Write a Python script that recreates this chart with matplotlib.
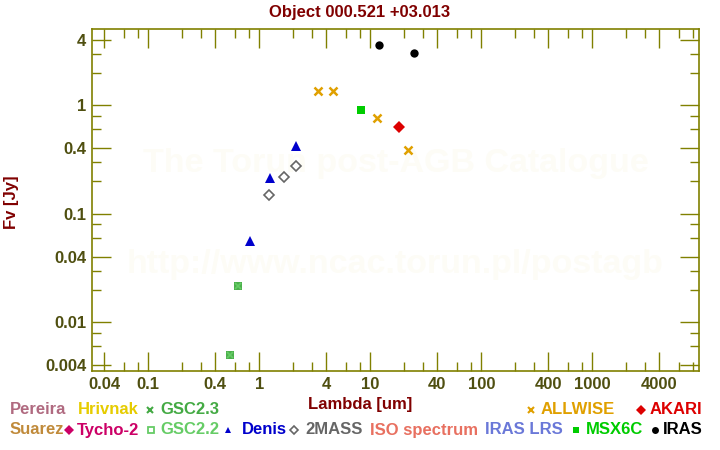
import matplotlib
matplotlib.use("Agg")
import matplotlib.pyplot as plt
from matplotlib.ticker import FixedLocator, NullFormatter

# photometry (lambda in um, flux in Jy)
gsc22_lam = [0.545, 0.647]
gsc22_f = [0.00497, 0.0215]
gsc23_lam = [0.545, 0.647]
gsc23_f = [0.00497, 0.0215]
denis_lam = [0.82, 1.26, 2.14]
denis_f = [0.0565, 0.212, 0.419]
mass_lam = [1.235, 1.662, 2.159]
mass_f = [0.148, 0.217, 0.276]
allwise_lam = [3.35, 4.6, 11.56, 22.08]
allwise_f = [1.35, 1.35, 0.764, 0.385]
msx_lam = [8.28]
msx_f = [0.905]
akari_lam = [18.0]
akari_f = [0.627]
iras_lam = [12.0, 25.0]
iras_f = [3.57, 3.01]

x_major = [0.04, 0.1, 0.4, 1, 4, 10, 40, 100, 400, 1000, 4000]
x_minor = [0.06, 0.08, 0.2, 0.3, 0.6, 0.8, 2, 3, 6, 8, 20, 30, 60, 80,
           200, 300, 600, 800, 2000, 3000, 6000, 8000]
y_major = [0.004, 0.01, 0.04, 0.1, 0.4, 1, 4]
y_minor = [0.006, 0.008, 0.02, 0.03, 0.06, 0.08, 0.2, 0.3, 0.6, 0.8, 2, 3]

olive = '#808000'
label_col = '#4f4f10'
dark_red = '#800000'
plt.rcParams['font.family'] = ['Liberation Sans', 'DejaVu Sans']
plt.rcParams['font.weight'] = 'bold'

fig = plt.figure(figsize=(7.2, 4.5), dpi=100)
ax = fig.add_axes([0.1278, 0.1756, 0.843, 0.76])

# watermark
ax.text(0.5, 0.608, 'The Torun post-AGB Catalogue', transform=ax.transAxes,
        ha='center', va='center', fontsize=24.5, color='#fdfcf6', zorder=0)
ax.text(0.5, 0.31, 'http://www.ncac.torun.pl/postagb', transform=ax.transAxes,
        ha='center', va='center', fontsize=24.5, color='#fdfcf6', zorder=0)

ax.plot(gsc22_lam, gsc22_f, 's', color='#4cb04c', ms=6, mew=0)
ax.plot(gsc23_lam, gsc23_f, 'x', color='#66cc66', ms=5, mew=1.2)
ax.plot(denis_lam, denis_f, '^', color='#0000cc', ms=6.5, mew=0)
ax.plot(mass_lam, mass_f, 'D', mfc='white', mec='#666666', ms=5, mew=1.2)
ax.plot(allwise_lam, allwise_f, 'x', color='#e0a000', ms=5.5, mew=1.8)
ax.plot(msx_lam, msx_f, 's', color='#00cc00', ms=5.5, mew=0)
ax.plot(akari_lam, akari_f, 'D', color='#dd0000', ms=6, mew=0)
ax.plot(iras_lam, iras_f, 'o', color='black', ms=6, mew=0)

ax.set_xscale('log')
ax.set_yscale('log')
ax.set_xlim(0.0311, 9150)
ax.set_ylim(0.00356, 5.05)

ax.xaxis.set_major_locator(FixedLocator(x_major))
ax.xaxis.set_minor_locator(FixedLocator(x_minor))
ax.yaxis.set_major_locator(FixedLocator(y_major))
ax.yaxis.set_minor_locator(FixedLocator(y_minor))
ax.set_xticklabels([str(v) for v in x_major])
ax.set_yticklabels([str(v) for v in y_major])
ax.xaxis.set_minor_formatter(NullFormatter())
ax.yaxis.set_minor_formatter(NullFormatter())

ax.tick_params(which='both', direction='in', top=True, right=True, color=olive,
               labelcolor=label_col, labelsize=12, width=1)
ax.tick_params(which='major', length=13.5, pad=4)
ax.tick_params(which='minor', length=6.8)
for s in ax.spines.values():
    s.set_color(olive)
    s.set_linewidth(1.2)

fig.text(0.5, 0.973, 'Object 000.521 +03.013', ha='center', va='center',
         fontsize=12, color=dark_red, weight='bold')
fig.text(0.5, 0.1, 'Lambda [um]', ha='center', va='center', fontsize=12,
         color=dark_red, weight='bold')
fig.text(0.016, 0.55, 'Fv [Jy]', ha='center', va='center', rotation=90,
         fontsize=12, color=dark_red, weight='bold')

# legend: names, colours, marker, marker x, text x, row (all figure pixels)
leg_names = ['Pereira', 'Hrivnak', 'GSC2.3', 'ALLWISE', 'AKARI',
             'Suarez', 'Tycho-2', 'GSC2.2', 'Denis', '2MASS', 'ISO spectrum',
             'IRAS LRS', 'MSX6C', 'IRAS']
leg_cols = ['#b06a80', '#e6cc00', '#44aa44', '#e0a000', '#dd0000',
            '#c08a3a', '#cc0066', '#66cc66', '#0000cc', '#666666', '#e87060',
            '#6a78d8', '#00cc00', '#000000']
leg_marks = [None, None, 'x', 'x', 'D', None, 'D', 's', '^', 'D', None, None, 's', 'o']
leg_mx = [0, 0, 150, 531, 641, 0, 69, 151, 228, 294, 0, 0, 576, 655]
leg_tx = [10, 78, 160, 541, 650, 10, 77, 160, 242, 305, 370, 485, 586, 663]
leg_row = [410, 410, 410, 410, 410, 430, 430, 430, 430, 430, 430, 430, 430, 430]

W, H = 720.0, 450.0
for i in range(len(leg_names)):
    yy = 1 - leg_row[i] / H
    fig.text(leg_tx[i] / W, yy, leg_names[i], ha='left', va='center',
             fontsize=12, color=leg_cols[i], weight='bold')
    m = leg_marks[i]
    if m is None:
        continue
    if m == 'x':
        kw = dict(color=leg_cols[i], ms=5, mew=1.5)
    elif m == 's' and leg_names[i] == 'GSC2.2':
        kw = dict(mfc='white', mec=leg_cols[i], ms=4.5, mew=1.3)
    elif m == 'D' and leg_names[i] == '2MASS':
        kw = dict(mfc='white', mec=leg_cols[i], ms=4.5, mew=1.2)
    else:
        kw = dict(color=leg_cols[i], ms=5, mew=0)
    fig.add_artist(plt.Line2D([leg_mx[i] / W], [yy], marker=m, linestyle='none',
                              transform=fig.transFigure, **kw))

fig.savefig('out.png', dpi=100, facecolor='white')
